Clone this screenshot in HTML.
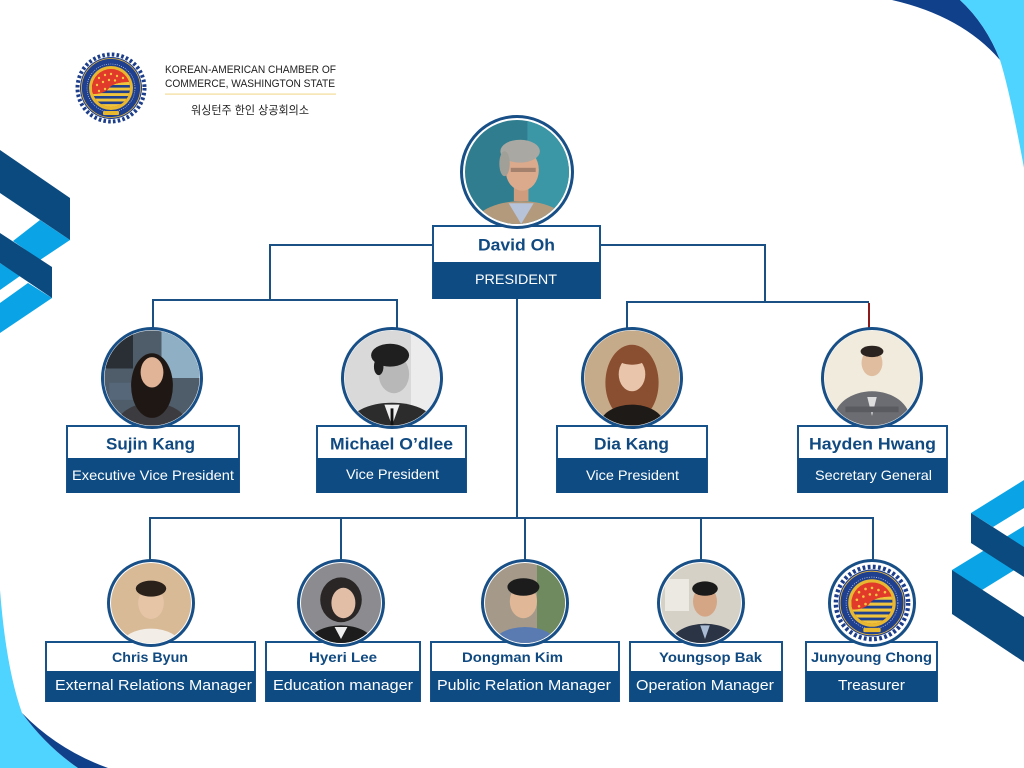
<!DOCTYPE html>
<html>
<head>
<meta charset="utf-8">
<style>
html,body{margin:0;padding:0;background:#fff;}
svg{display:block;}
text{font-family:"Liberation Sans","Noto Sans CJK KR",sans-serif;}
.nm{font-weight:bold;fill:#104a80;}
.sb{fill:#ffffff;}
</style>
</head>
<body>
<svg width="1024" height="768" viewBox="0 0 1024 768" xmlns="http://www.w3.org/2000/svg">
<defs>
  <clipPath id="c50"><circle cx="0" cy="0" r="50"/></clipPath>
  <clipPath id="c19"><circle cx="0" cy="0" r="19"/></clipPath>
  <g id="logo">
    <circle r="33.5" fill="none" stroke="#1c3d8a" stroke-width="4" stroke-dasharray="2.6 2.2"/>
    <circle r="31" fill="#1f3f8f"/>
    <circle r="29.5" fill="none" stroke="#e6b83a" stroke-width="0.8"/>
    <circle r="24" fill="none" stroke="#d9dfee" stroke-width="0.6" stroke-dasharray="1 1.2"/>
    <circle r="22" fill="#e8b830"/>
    <circle r="19" fill="#e13a2a"/>
    <g clip-path="url(#c19)">
      <g fill="#f4c742">
        <circle cx="-12" cy="-10" r="1.2"/><circle cx="-6" cy="-13" r="1.2"/><circle cx="0" cy="-14" r="1.2"/><circle cx="6" cy="-12" r="1.2"/>
        <circle cx="-14" cy="-3" r="1.2"/><circle cx="-8" cy="-6" r="1.2"/><circle cx="-2" cy="-8" r="1.2"/><circle cx="4" cy="-6" r="1.2"/>
        <circle cx="-12" cy="4" r="1.2"/><circle cx="-6" cy="1" r="1.2"/><circle cx="-10" cy="10" r="1.2"/><circle cx="10" cy="-8" r="1.2"/>
      </g>
      <path d="M-19,19 L-19,6 Q-6,6 -2,0 Q3,-6 19,-6 L19,19 Z" fill="#f0c53e"/>
      <g fill="#1f3f8f">
        <rect x="-20" y="-3" width="40" height="2.6"/>
        <rect x="-20" y="2.5" width="40" height="2.6"/>
        <rect x="-20" y="8" width="40" height="2.6"/>
        <rect x="-20" y="13.5" width="40" height="2.6"/>
      </g>
      <path d="M-19,-19 L-19,6 Q-6,6 -2,0 Q3,-6 19,-6 L19,-19 Z" fill="#e13a2a"/>
      <g fill="#f4c742">
        <circle cx="-12" cy="-10" r="1.2"/><circle cx="-6" cy="-13" r="1.2"/><circle cx="0" cy="-14" r="1.2"/><circle cx="6" cy="-12" r="1.2"/>
        <circle cx="-14" cy="-3" r="1.2"/><circle cx="-8" cy="-6" r="1.2"/><circle cx="-2" cy="-8" r="1.2"/><circle cx="4" cy="-7.5" r="1.2"/><circle cx="12" cy="-10" r="1.2"/>
        <circle cx="-12" cy="3" r="1.2"/><circle cx="-6" cy="1" r="1.2"/>
      </g>
    </g>
    <rect x="-8" y="23" width="16" height="4" fill="#e8b830" rx="1"/>
  </g>
</defs>

<!-- Decorations -->
<!-- top right -->
<path d="M892,0 Q962,16 1000,60 Q986,24 960,0 Z" fill="#10408a"/>
<path d="M960,0 L1024,0 L1024,168 Q1010,92 1000,60 Q986,24 960,0 Z" fill="#4fd3ff"/>
<!-- bottom left -->
<path d="M0,590 Q6,668 22,713 Q46,746 78,768 L0,768 Z" fill="#4fd3ff"/>
<path d="M22,713 Q58,750 108,768 L78,768 Q46,746 22,713 Z" fill="#10408a"/>
<!-- left ribbons -->
<polygon points="0,263 20,276 0,290" fill="#0aa4e6"/>
<polygon points="0,303 28,283 52,298 0,333" fill="#0aa4e6"/>
<polygon points="40,220 70,240 40,260 13,241" fill="#0aa4e6"/>
<polygon points="0,150 70,198 70,240 0,193" fill="#0b4a7f"/>
<polygon points="0,233 52,267 52,298 0,263" fill="#0b4a7f"/>
<!-- right ribbons -->
<polygon points="971,513 1024,480 1024,508 993,527" fill="#0aa4e6"/>
<polygon points="952,570 1024,526 1024,564 982,590" fill="#0aa4e6"/>
<polygon points="971,513 1024,547 1024,577 971,543" fill="#0b4a7f"/>
<polygon points="952,570 1024,617 1024,662 952,614" fill="#0b4a7f"/>

<!-- Header logo -->
<use href="#logo" transform="translate(111,88)"/>
<text x="165" y="73" font-size="10.6" fill="#1e1e1e" textLength="171" lengthAdjust="spacingAndGlyphs">KOREAN-AMERICAN CHAMBER OF</text>
<text x="165" y="87" font-size="10.6" fill="#1e1e1e" textLength="170" lengthAdjust="spacingAndGlyphs">COMMERCE, WASHINGTON STATE</text>
<rect x="165" y="93.5" width="171" height="1.2" fill="#f3dc9a"/>
<text x="191" y="114" font-size="11.5" fill="#1e1e1e" textLength="118" lengthAdjust="spacingAndGlyphs">워싱턴주 한인 상공회의소</text>

<!-- Connectors -->
<g fill="none" stroke="#1a5084" stroke-width="2">
  <path d="M433,245 H270 V300"/>
  <path d="M153,300 H397"/>
  <path d="M153,299 V330"/>
  <path d="M397,299 V330"/>
  <path d="M600,245 H765 V302"/>
  <path d="M627,302 H869"/>
  <path d="M627,301 V330"/>
  <path d="M517,298 V518"/>
  <path d="M149,518 H874"/>
  <path d="M150,517 V560"/>
  <path d="M341,517 V560"/>
  <path d="M525,517 V560"/>
  <path d="M701,517 V560"/>
  <path d="M873,517 V560"/>
</g>
<path d="M869,303 V330" stroke="#8e1b1b" stroke-width="2"/>

<!-- Boxes -->
<g stroke="#17528a" stroke-width="2">
  <!-- president -->
  <rect x="433" y="226" width="167" height="72" fill="#fff"/>
  <!-- row 2 -->
  <rect x="67" y="426" width="172" height="66" fill="#fff"/>
  <rect x="317" y="426" width="149" height="66" fill="#fff"/>
  <rect x="557" y="426" width="150" height="66" fill="#fff"/>
  <rect x="798" y="426" width="149" height="66" fill="#fff"/>
  <!-- row 3 -->
  <rect x="46" y="642" width="209" height="59" fill="#fff"/>
  <rect x="266" y="642" width="154" height="59" fill="#fff"/>
  <rect x="431" y="642" width="188" height="59" fill="#fff"/>
  <rect x="630" y="642" width="152" height="59" fill="#fff"/>
  <rect x="806" y="642" width="131" height="59" fill="#fff"/>
</g>
<g fill="#0e4b82">
  <rect x="433" y="262" width="167" height="37"/>
  <rect x="67" y="458" width="172" height="35"/>
  <rect x="317" y="458" width="149" height="35"/>
  <rect x="557" y="458" width="150" height="35"/>
  <rect x="798" y="458" width="149" height="35"/>
  <rect x="46" y="671" width="209" height="31"/>
  <rect x="266" y="671" width="154" height="31"/>
  <rect x="431" y="671" width="188" height="31"/>
  <rect x="630" y="671" width="152" height="31"/>
  <rect x="806" y="671" width="131" height="31"/>
</g>

<!-- Texts -->
<g dominant-baseline="central">
  <text class="nm" x="478" y="245" font-size="17" textLength="77" lengthAdjust="spacingAndGlyphs">David Oh</text>
  <text class="sb" x="475" y="279" font-size="14" textLength="82" lengthAdjust="spacingAndGlyphs">PRESIDENT</text>

  <text class="nm" x="106" y="444" font-size="17" textLength="89" lengthAdjust="spacingAndGlyphs">Sujin Kang</text>
  <text class="sb" x="72" y="475" font-size="14" textLength="162" lengthAdjust="spacingAndGlyphs">Executive Vice President</text>
  <text class="nm" x="330" y="444" font-size="17" textLength="123" lengthAdjust="spacingAndGlyphs">Michael O’dlee</text>
  <text class="sb" x="346" y="474" font-size="14" textLength="93" lengthAdjust="spacingAndGlyphs">Vice President</text>
  <text class="nm" x="594" y="444" font-size="17" textLength="75" lengthAdjust="spacingAndGlyphs">Dia Kang</text>
  <text class="sb" x="586" y="475" font-size="14" textLength="93" lengthAdjust="spacingAndGlyphs">Vice President</text>
  <text class="nm" x="809" y="444" font-size="17" textLength="127" lengthAdjust="spacingAndGlyphs">Hayden Hwang</text>
  <text class="sb" x="815" y="475" font-size="14" textLength="117" lengthAdjust="spacingAndGlyphs">Secretary General</text>

  <text class="nm" x="112" y="657" font-size="14" textLength="76" lengthAdjust="spacingAndGlyphs">Chris Byun</text>
  <text class="sb" x="55" y="686" font-size="14.5" textLength="197" lengthAdjust="spacingAndGlyphs">External Relations Manager</text>
  <text class="nm" x="309" y="657" font-size="14" textLength="68" lengthAdjust="spacingAndGlyphs">Hyeri Lee</text>
  <text class="sb" x="273" y="686" font-size="14.5" textLength="140" lengthAdjust="spacingAndGlyphs">Education manager</text>
  <text class="nm" x="462" y="657" font-size="14" textLength="101" lengthAdjust="spacingAndGlyphs">Dongman Kim</text>
  <text class="sb" x="437" y="686" font-size="14.5" textLength="174" lengthAdjust="spacingAndGlyphs">Public Relation Manager</text>
  <text class="nm" x="659" y="657" font-size="14" textLength="103" lengthAdjust="spacingAndGlyphs">Youngsop Bak</text>
  <text class="sb" x="636" y="686" font-size="14.5" textLength="138" lengthAdjust="spacingAndGlyphs">Operation Manager</text>
  <text class="nm" x="811" y="657" font-size="14" textLength="121" lengthAdjust="spacingAndGlyphs">Junyoung Chong</text>
  <text class="sb" x="838" y="686" font-size="14.5" textLength="67" lengthAdjust="spacingAndGlyphs">Treasurer</text>
</g>

<!-- Photo circles: ring -->
<g fill="#174f86">
  <circle cx="517" cy="172" r="57"/>
  <circle cx="152" cy="378" r="51"/>
  <circle cx="392" cy="378" r="51"/>
  <circle cx="632" cy="378" r="51"/>
  <circle cx="872" cy="378" r="51"/>
  <circle cx="151" cy="603" r="44"/>
  <circle cx="341" cy="603" r="44"/>
  <circle cx="525" cy="603" r="44"/>
  <circle cx="701" cy="603" r="44"/>
  <circle cx="872" cy="603" r="44"/>
</g>
<g fill="#ffffff">
  <circle cx="517" cy="172" r="54"/>
  <circle cx="152" cy="378" r="48"/>
  <circle cx="392" cy="378" r="48"/>
  <circle cx="632" cy="378" r="48"/>
  <circle cx="872" cy="378" r="48"/>
  <circle cx="151" cy="603" r="41"/>
  <circle cx="341" cy="603" r="41"/>
  <circle cx="525" cy="603" r="41"/>
  <circle cx="701" cy="603" r="41"/>
  <circle cx="872" cy="603" r="41"/>
</g>

<!-- David Oh -->
<g transform="translate(517,172) scale(1.04)" clip-path="url(#c50)">
  <rect x="-50" y="-50" width="100" height="100" fill="#2f7d8e"/>
  <rect x="10" y="-50" width="40" height="100" fill="#3b96a6"/>
  <ellipse cx="4" cy="52" rx="46" ry="24" fill="#b39a7c"/>
  <path d="M-8,30 L4,50 L16,30 Z" fill="#b7c3d9"/>
  <rect x="-3" y="14" width="14" height="14" fill="#cf9c7e"/>
  <ellipse cx="5" cy="-2" rx="16" ry="20" fill="#dba98b"/>
  <ellipse cx="3" cy="-20" rx="19" ry="11" fill="#a9a8a2"/>
  <ellipse cx="-12" cy="-8" rx="5" ry="12" fill="#a09f98"/>
  <rect x="-6" y="-4" width="24" height="4" fill="#6b5a50" opacity="0.5"/>
</g>

<!-- Sujin Kang -->
<g transform="translate(152,378) scale(0.95)" clip-path="url(#c50)">
  <rect x="-50" y="-50" width="100" height="100" fill="#4f5d6a"/>
  <rect x="10" y="-50" width="40" height="50" fill="#8fb0c4"/>
  <rect x="-50" y="-50" width="30" height="40" fill="#2a2f36"/>
  <rect x="-45" y="5" width="30" height="18" fill="#56677a"/>
  <ellipse cx="0" cy="52" rx="38" ry="26" fill="#3c3c40"/>
  <ellipse cx="0" cy="8" rx="22" ry="34" fill="#1f1713"/>
  <ellipse cx="0" cy="-6" rx="12" ry="16" fill="#e1b497"/>
</g>

<!-- Michael -->
<g transform="translate(392,378) scale(0.95)" clip-path="url(#c50)">
  <rect x="-50" y="-50" width="100" height="100" fill="#d9d9d9"/>
  <rect x="20" y="-50" width="30" height="100" fill="#ececec"/>
  <ellipse cx="0" cy="50" rx="46" ry="24" fill="#2c2c2c"/>
  <path d="M-8,28 L0,50 L8,28 Z" fill="#f0f0f0"/>
  <rect x="-1.5" y="32" width="3" height="18" fill="#111"/>
  <ellipse cx="2" cy="-4" rx="16" ry="20" fill="#b8b8b8"/>
  <ellipse cx="-2" cy="-24" rx="20" ry="12" fill="#1f1f1f"/>
  <ellipse cx="-14" cy="-12" rx="5" ry="9" fill="#1f1f1f"/>
</g>

<!-- Dia Kang -->
<g transform="translate(632,378) scale(0.95)" clip-path="url(#c50)">
  <rect x="-50" y="-50" width="100" height="100" fill="#c6ab8b"/>
  <ellipse cx="0" cy="5" rx="28" ry="40" fill="#8a4e30"/>
  <ellipse cx="0" cy="50" rx="34" ry="22" fill="#1e1a18"/>
  <ellipse cx="0" cy="-4" rx="14" ry="18" fill="#e8c5ab"/>
  <ellipse cx="0" cy="-22" rx="16" ry="8" fill="#8a4e30"/>
</g>

<!-- Hayden -->
<g transform="translate(872,378) scale(0.95)" clip-path="url(#c50)">
  <rect x="-50" y="-50" width="100" height="100" fill="#f0ebdc"/>
  <ellipse cx="0" cy="44" rx="40" ry="30" fill="#6c6d72"/>
  <path d="M-5,20 L0,40 L5,20 Z" fill="#ddd"/>
  <ellipse cx="0" cy="-16" rx="11" ry="14" fill="#e0bd9e"/>
  <ellipse cx="0" cy="-28" rx="12" ry="6" fill="#2a231f"/>
  <rect x="-28" y="30" width="56" height="6" fill="#5a5b60"/>
</g>

<!-- Chris -->
<g transform="translate(151,603) scale(0.8)" clip-path="url(#c50)">
  <rect x="-50" y="-50" width="100" height="100" fill="#d8ba97"/>
  <ellipse cx="0" cy="52" rx="36" ry="20" fill="#f2eee7"/>
  <ellipse cx="0" cy="0" rx="16" ry="20" fill="#e6c5a6"/>
  <ellipse cx="0" cy="-18" rx="19" ry="10" fill="#2a211b"/>
</g>

<!-- Hyeri -->
<g transform="translate(341,603) scale(0.8)" clip-path="url(#c50)">
  <rect x="-50" y="-50" width="100" height="100" fill="#8c8c90"/>
  <ellipse cx="0" cy="-4" rx="26" ry="28" fill="#2a2626"/>
  <ellipse cx="0" cy="50" rx="40" ry="22" fill="#1c1c1c"/>
  <path d="M-8,30 L0,45 L8,30 Z" fill="#eee"/>
  <ellipse cx="3" cy="0" rx="15" ry="19" fill="#e2bea7"/>
</g>

<!-- Dongman -->
<g transform="translate(525,603) scale(0.8)" clip-path="url(#c50)">
  <rect x="-50" y="-50" width="100" height="100" fill="#a59a8a"/>
  <rect x="15" y="-50" width="35" height="100" fill="#6f8a5e"/>
  <ellipse cx="0" cy="52" rx="40" ry="22" fill="#5a7bb2"/>
  <ellipse cx="-2" cy="-2" rx="17" ry="21" fill="#e0b897"/>
  <ellipse cx="-2" cy="-20" rx="20" ry="11" fill="#1c1c1c"/>
</g>

<!-- Youngsop -->
<g transform="translate(701,603) scale(0.8)" clip-path="url(#c50)">
  <rect x="-50" y="-50" width="100" height="100" fill="#d6d1c6"/>
  <rect x="-45" y="-30" width="30" height="40" fill="#ece9e2"/>
  <ellipse cx="5" cy="50" rx="42" ry="24" fill="#2b3445"/>
  <path d="M-1,28 L5,45 L11,28 Z" fill="#a9bbd3"/>
  <ellipse cx="5" cy="-2" rx="15" ry="19" fill="#d5a686"/>
  <ellipse cx="5" cy="-18" rx="16" ry="9" fill="#1a1a1a"/>
</g>

<!-- Junyoung (logo) -->
<use href="#logo" transform="translate(872,603) scale(1.08)"/>

</svg>
</body>
</html>
